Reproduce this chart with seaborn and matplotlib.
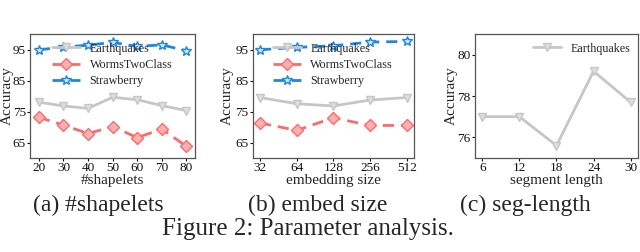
import matplotlib
matplotlib.use("Agg")
import matplotlib.pyplot as plt
import seaborn as sns
import pandas as pd

# ---- data ----
shapelets = [20, 30, 40, 50, 60, 70, 80]
eq_shapelets = [78.0, 76.8, 76.0, 79.6, 78.8, 76.9, 75.3]
worms_shapelets = [73.1, 70.6, 67.9, 70.1, 66.6, 69.3, 63.8]
straw_shapelets = [94.9, 95.8, 96.4, 97.3, 96.0, 96.5, 94.6]

embed = ["32", "64", "128", "256", "512"]
eq_embed = [79.5, 77.5, 76.8, 78.7, 79.5]
worms_embed = [71.3, 68.9, 73.0, 70.5, 70.5]
straw_embed = [94.9, 95.7, 96.2, 97.4, 97.6]

seglen = [6, 12, 18, 24, 30]
eq_seglen = [77.0, 77.0, 75.6, 79.2, 77.7]

series_names = ["Earthquakes", "WormsTwoClass", "Strawberry"]
subcaptions = ["(a) #shapelets", "(b) embed size", "(c) seg-length"]
xlabels = ["#shapelets", "embedding size", "segment length"]
caption = "Figure 2: Parameter analysis."

# ---- style ----
sns.set_theme(style="white")
plt.rcParams["font.family"] = ["Liberation Serif", "DejaVu Serif"]

colors = {"Earthquakes": "#c6c6c6", "WormsTwoClass": "#fa6b6b", "Strawberry": "#1f87d9"}
faces = {"Earthquakes": "#dedede", "WormsTwoClass": "#fcb0b0", "Strawberry": "#cfe6f7"}
markers = {"Earthquakes": "v", "WormsTwoClass": "D", "Strawberry": "*"}
styles = {"Earthquakes": "-", "WormsTwoClass": (0, (4, 2.5)), "Strawberry": (0, (4, 2.5))}
msizes = {"Earthquakes": 6, "WormsTwoClass": 6.5, "Strawberry": 7.5}

fig = plt.figure(figsize=(6.4, 2.52), dpi=100)
axa = fig.add_axes([0.047, 0.373, 0.258, 0.492])
axb = fig.add_axes([0.395, 0.373, 0.252, 0.492])
axc = fig.add_axes([0.742, 0.373, 0.255, 0.492])


def draw(ax, x, ys, names):
    for name, y in zip(names, ys):
        df = pd.DataFrame({"x": x, "y": y})
        sns.lineplot(data=df, x="x", y="y", ax=ax, sort=False, color=colors[name],
                     linestyle=styles[name], linewidth=2, marker=markers[name],
                     markersize=msizes[name], markerfacecolor=faces[name],
                     markeredgecolor=colors[name], markeredgewidth=1, label=name)


draw(axa, shapelets, [eq_shapelets, worms_shapelets, straw_shapelets], series_names)
draw(axb, embed, [eq_embed, worms_embed, straw_embed], series_names)
draw(axc, seglen, [eq_seglen], series_names[:1])

axa.set_xticks(shapelets)
axa.margins(x=0.06)
axb.margins(x=0.05)
axc.set_xticks(seglen)
axc.margins(x=0.05)

for ax in (axa, axb):
    ax.set_ylim(60, 100)
    ax.set_yticks([65, 75, 85, 95])
axc.set_ylim(75, 81)
axc.set_yticks([76, 78, 80])

legend_pos = [(0.133, 0.93), (0.124, 0.93), (0.356, 0.93)]
ylabel_x = [-0.098, -0.118, -0.104]
for ax, xl, lp, yx in zip((axa, axb, axc), xlabels, legend_pos, ylabel_x):
    ax.set_xlabel(xl, fontsize=11, labelpad=0)
    ax.set_ylabel("Accuracy", fontsize=11)
    ax.yaxis.set_label_coords(yx, 0.5)
    ax.tick_params(axis="both", labelsize=9.5, length=2, width=0.8, pad=1,
                   direction="out", left=True, bottom=True, colors="#111111")
    for s in ax.spines.values():
        s.set_color("#555555")
        s.set_linewidth(0.9)
    ax.legend(loc="upper left", bbox_to_anchor=lp, frameon=False, fontsize=8.7,
              borderpad=0, borderaxespad=0, labelspacing=0.35, handlelength=2.3,
              handletextpad=0.8)

sub_x = [98 / 640, 318 / 640, 525 / 640]
for sx, sc in zip(sub_x, subcaptions):
    fig.text(sx, 1 - 205 / 252, sc, ha="center", va="center", fontsize=17)
fig.text(308 / 640, 1 - 229 / 252, caption, ha="center", va="center", fontsize=18)

fig.savefig("out.png", dpi=100, facecolor="white")
